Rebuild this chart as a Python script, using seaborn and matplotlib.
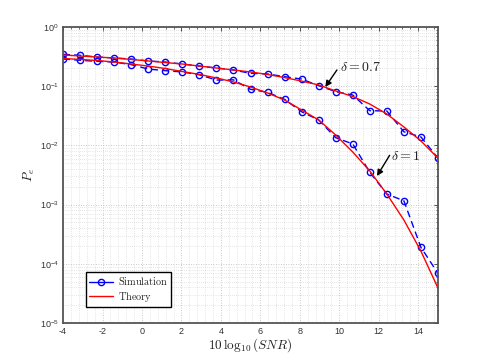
import numpy as np
import pandas as pd
import matplotlib
matplotlib.use("Agg")
import matplotlib.pyplot as plt
from matplotlib.lines import Line2D
from matplotlib.ticker import LogLocator, MultipleLocator, NullFormatter
import seaborn as sns

# ---------------- data ----------------
snr_db = [-4.0, -3.136, -2.273, -1.409, -0.545, 0.318, 1.182, 2.045, 2.909, 3.773,
          4.636, 5.5, 6.364, 7.227, 8.091, 8.955, 9.818, 10.682, 11.545, 12.409,
          13.273, 14.136, 15.0]

sim_d07 = [0.346, 0.333, 0.311, 0.300, 0.288, 0.267, 0.256, 0.237, 0.219, 0.203,
           0.188, 0.165, 0.161, 0.145, 0.132, 0.102, 0.081, 0.071, 0.0386, 0.0381,
           0.0170, 0.0139, 0.0061]
theory_d07 = [0.337, 0.324, 0.311, 0.300, 0.283, 0.267, 0.251, 0.237, 0.219, 0.203,
              0.188, 0.174, 0.158, 0.140, 0.122, 0.105, 0.083, 0.067, 0.050, 0.0339,
              0.0205, 0.0119, 0.0061]

sim_d1 = [0.288, 0.274, 0.263, 0.256, 0.231, 0.195, 0.183, 0.174, 0.156, 0.127,
          0.128, 0.0887, 0.0788, 0.060, 0.037, 0.0269, 0.0135, 0.0106, 0.00351, 0.00151,
          0.00116, 0.00019, 0.000069]
theory_d1 = [0.294, 0.283, 0.272, 0.256, 0.237, 0.219, 0.199, 0.177, 0.158, 0.138,
             0.118, 0.097, 0.0768, 0.0585, 0.0396, 0.0269, 0.0150, 0.00774, 0.00370, 0.00151,
             0.00055, 0.000164, 0.000039]

xticks = [-4, -2, 0, 2, 4, 6, 8, 10, 12, 14]

# ---------------- style ----------------
sns.set_theme(style="white")
plt.rcParams["font.family"] = ["Liberation Sans", "DejaVu Sans"]
plt.rcParams["mathtext.fontset"] = "cm"
plt.rcParams["xtick.direction"] = "in"
plt.rcParams["ytick.direction"] = "in"

fig = plt.figure(figsize=(4.85, 3.64), dpi=100)
ax = fig.add_axes([0.130, 0.1126, 0.773, 0.8132])

def series(x, y):
    return pd.DataFrame({"x": x, "y": y})

sim_kw = dict(color="#0000ff", marker="o", markerfacecolor="none", markeredgecolor="#0000ff",
              markersize=4.5, markeredgewidth=1.0, linewidth=1.0, linestyle=(0, (5, 3)),
              estimator=None, sort=False)
th_kw = dict(color="#ff0000", linewidth=1.0, estimator=None, sort=False)

for sim, th in [(sim_d07, theory_d07), (sim_d1, theory_d1)]:
    sns.lineplot(data=series(snr_db, sim), x="x", y="y", ax=ax, **sim_kw)
    sns.lineplot(data=series(snr_db, th), x="x", y="y", ax=ax, **th_kw)

ax.set_yscale("log")
ax.set_xlim(-4, 15)
ax.set_ylim(1e-5, 1)
ax.set_xticks(xticks)
ax.set_xticklabels([str(t) for t in xticks])
ax.xaxis.set_minor_locator(MultipleLocator(0.4))
ax.yaxis.set_major_locator(LogLocator(base=10, numticks=10))
ax.yaxis.set_minor_locator(LogLocator(base=10, subs=np.arange(2, 10), numticks=20))
ax.yaxis.set_minor_formatter(NullFormatter())

ax.grid(True, which="major", linestyle=(0, (1, 2)), color="#b8b8b8", linewidth=0.6)
ax.grid(True, which="minor", linestyle=(0, (1, 2)), color="#cccccc", linewidth=0.5)

for s in ax.spines.values():
    s.set_color("#555555")
    s.set_linewidth(1.3)
ax.tick_params(which="both", top=True, right=True, direction="in", colors="#333333",
               labelsize=6.5)
ax.tick_params(axis="x", pad=3)
ax.tick_params(axis="y", pad=3)
ax.tick_params(which="major", length=3, width=0.6)
ax.tick_params(which="minor", length=1.6, width=0.5)

ax.set_xlabel(r"$10\,\log_{10}(SNR)$", fontsize=9.5, labelpad=0, color="#222222")
ax.set_ylabel(r"$P_e$", fontsize=9.5, labelpad=2, color="#222222")

arrow = dict(arrowstyle="-|>", color="black", lw=1.0, shrinkA=0, shrinkB=0,
             mutation_scale=9)
ax.annotate("", xy=(9.29, 0.097), xytext=(9.88, 0.188), arrowprops=arrow)
ax.text(10.05, 0.215, r"$\delta = 0.7$", fontsize=10, va="center", ha="left",
        color="#222222")
ax.annotate("", xy=(11.91, 0.00304), xytext=(12.55, 0.0068), arrowprops=arrow)
ax.text(12.63, 0.0066, r"$\delta = 1$", fontsize=10, va="center", ha="left",
        color="#222222")

handles = [Line2D([], [], color="#0000ff", marker="o", markerfacecolor="none",
                  markersize=4.5, linewidth=1.0),
           Line2D([], [], color="#ff0000", linewidth=1.0)]
leg = ax.legend(handles, [r"$\mathrm{Simulation}$", r"$\mathrm{Theory}$"],
                loc="lower left", bbox_to_anchor=(0.061, 0.054), fontsize=7.4,
                fancybox=False, framealpha=1, edgecolor="black", borderpad=0.3,
                handlelength=2.3, handletextpad=0.5, labelspacing=0.25, borderaxespad=0)
leg.get_frame().set_linewidth(1.0)

fig.savefig("out.png", dpi=100)
